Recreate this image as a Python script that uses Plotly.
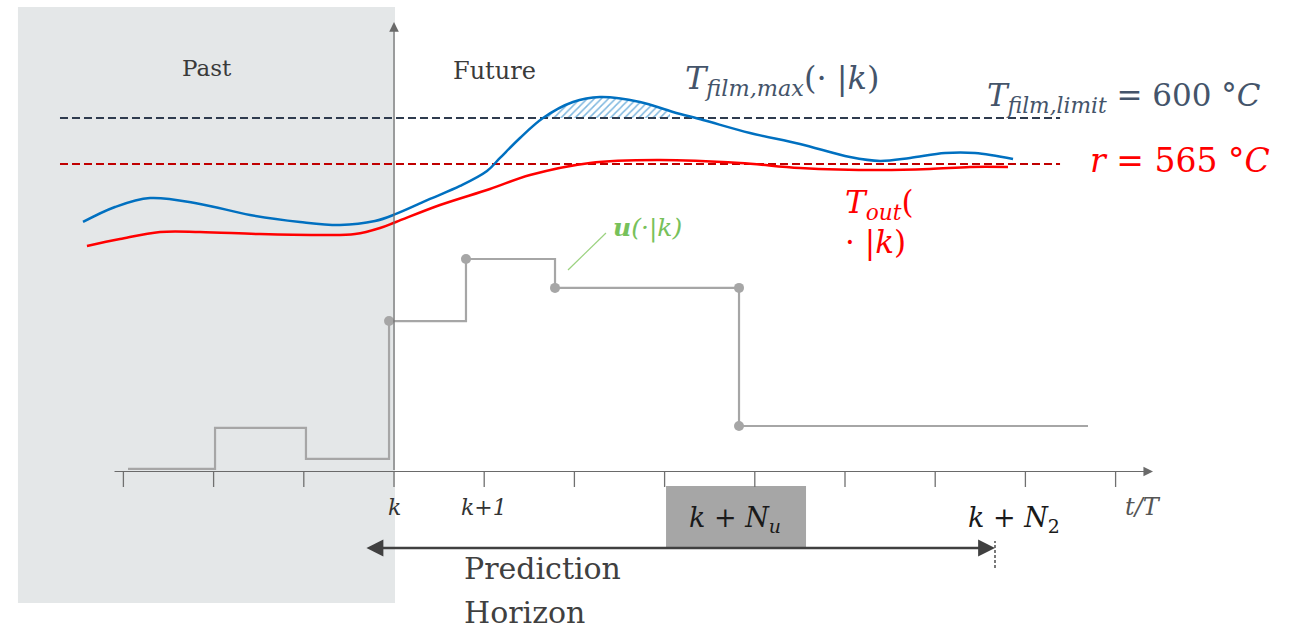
import plotly.graph_objects as go

# ---------------- data ----------------
# time in sampling steps relative to k (k = 0)
blue_t = [-3.448, -3.093, -2.705, -2.151, -1.596, -1.042, -0.599, -0.211, 0.022, 0.399,
          0.732, 1.031, 1.175, 1.397, 1.652, 1.984, 2.284, 2.727, 3.093, 3.426,
          3.947, 4.501, 5.055, 5.388, 5.721, 6.109, 6.441, 6.863]
blue_T = [520.9, 532.3, 539.1, 534.6, 526.2, 520.9, 518.6, 521.6, 527.0, 538.4,
          548.3, 559.7, 569.6, 584.8, 600.0, 612.2, 616.0, 612.2, 604.6, 598.5,
          588.6, 580.2, 570.3, 567.3, 569.6, 573.4, 573.4, 568.8]

red_t = [-3.404, -3.038, -2.594, -2.151, -1.486, -0.820, -0.432, -0.155, 0.022, 0.510,
         1.064, 1.508, 2.173, 2.916, 3.836, 4.501, 5.388, 5.942, 6.386, 6.807]
red_T = [502.6, 507.9, 513.3, 513.3, 511.7, 511.0, 511.7, 516.3, 520.9, 533.8,
         546.0, 556.6, 565.8, 568.0, 565.8, 562.0, 560.4, 561.2, 562.7, 562.7]

hatch_t = [1.652, 1.984, 2.284, 2.727, 3.060]
hatch_T = [600.0, 612.2, 616.0, 612.2, 605.5]
hatch_base_t = [1.652, 3.060]
hatch_base_T = [600.0, 600.0]

limit_t = [-3.703, 7.384]
T_limit = [600, 600]
r_ref = [565, 565]

u_t = [-2.949, -1.984, -0.976, -0.055, 0.798, 1.785, 3.825, 7.694]
u_val = [0.012, 0.205, 0.059, 0.708, 1.0, 0.864, 0.214, 0.214]
u_dot_t = [-0.055, 0.798, 1.785, 3.825, 3.825]
u_dot_val = [0.708, 1.0, 0.864, 0.864, 0.214]

tick_steps = list(range(-3, 9))
tick_labels = {0: "k", 1: "k+1"}

# ---------------- figure ----------------
PX = 90.2  # pixels per step (for layout only)
SERIF = "DejaVu Serif"
fig = go.Figure()

# hatch (violation area)
fig.add_trace(go.Scatter(x=hatch_base_t, y=hatch_base_T, mode="lines",
                         line=dict(width=0), hoverinfo="skip", showlegend=False))
fig.add_trace(go.Scatter(x=hatch_t, y=hatch_T, mode="lines", line=dict(width=0, shape="spline"),
                         fill="tonexty", fillcolor="white",
                         fillpattern=dict(shape="/", fgcolor="#0070c0", bgcolor="white",
                                          size=5, solidity=0.3),
                         hoverinfo="skip", showlegend=False))

# dashed limit / reference
fig.add_trace(go.Scatter(x=limit_t, y=T_limit, mode="lines",
                         line=dict(color="#2e3b4e", width=2, dash="8px,4px"), showlegend=False))
fig.add_trace(go.Scatter(x=limit_t, y=r_ref, mode="lines",
                         line=dict(color="#c00000", width=2, dash="8px,4px"), showlegend=False))

# curves
fig.add_trace(go.Scatter(x=blue_t, y=blue_T, mode="lines",
                         line=dict(color="#0070c0", width=2.5, shape="spline", smoothing=1),
                         showlegend=False))
fig.add_trace(go.Scatter(x=red_t, y=red_T, mode="lines",
                         line=dict(color="#ff0000", width=2.5, shape="spline", smoothing=1),
                         showlegend=False))

# control signal
fig.add_trace(go.Scatter(x=u_t, y=u_val, yaxis="y2", mode="lines",
                         line=dict(color="#a6a6a6", width=2.2, shape="hv"), showlegend=False))
fig.add_trace(go.Scatter(x=u_dot_t, y=u_dot_val, yaxis="y2", mode="markers",
                         marker=dict(color="#a6a6a6", size=10), showlegend=False))

shapes = []
# past background
shapes.append(dict(type="rect", xref="x", yref="paper", x0=-4.169, x1=0.011,
                   y0=1 - 603 / 630, y1=1 - 7 / 630, fillcolor="#e4e7e8",
                   line=dict(width=0), layer="below"))
# ticks
for t in tick_steps:
    shapes.append(dict(type="line", xref="x", yref="y2", x0=t, x1=t, y0=0, y1=-0.073,
                       line=dict(color="#707070", width=1.3)))
# N_u box
shapes.append(dict(type="rect", xref="x", yref="paper", x0=3.016, x1=4.568,
                   y0=1 - 547 / 630, y1=1 - 486 / 630, fillcolor="#a6a6a6",
                   line=dict(width=0), layer="below"))
# dashed marker at k+N2
shapes.append(dict(type="line", xref="x", yref="paper", x0=6.663, x1=6.663,
                   y0=1 - 568 / 630, y1=1 - 541 / 630,
                   line=dict(color="#222222", width=1.2, dash="3px,2px")))
# green leader
shapes.append(dict(type="line", xref="x", yref="paper", x0=1.929, x1=2.350,
                   y0=1 - 270 / 630, y1=1 - 233 / 630,
                   line=dict(color="#9bd27f", width=1.2)))

ann = []
# axes arrows
ann.append(dict(x=8.415, y=0, xref="x", yref="y2", ax=-3.115, ay=0, axref="x", ayref="y2",
                text="", showarrow=True, arrowhead=2, arrowsize=1.6, arrowwidth=1.2,
                arrowcolor="#6a6a6a"))
ann.append(dict(x=0, y=2.115, xref="x", yref="y2", ax=0, ay=0, axref="x", ayref="y2",
                text="", showarrow=True, arrowhead=2, arrowsize=1.6, arrowwidth=1.2,
                arrowcolor="#6a6a6a"))
# prediction horizon double arrow
ann.append(dict(x=6.663, y=-0.36, xref="x", yref="y2", ax=-0.322, ay=-0.36, axref="x", ayref="y2",
                text="", showarrow=True, arrowhead=2, arrowside="end+start", arrowsize=1.3,
                arrowwidth=2.6, arrowcolor="#404040"))


def txt(x, y, s, size, color, family=SERIF, xanchor="center", yanchor="middle", align="center"):
    ann.append(dict(x=x, y=y, xref="x", yref="paper", text=s, showarrow=False,
                    xanchor=xanchor, yanchor=yanchor, align=align,
                    font=dict(size=size, color=color, family=family)))


txt(-2.073, 1 - 68 / 630, "Past", 23, "#3a3a3a")
txt(1.109, 1 - 71 / 630, "Future", 24, "#3a3a3a")
txt(3.204, 1 - 80 / 630, "<i>T</i><sub><i>film,max</i></sub>(· |<i>k</i>)", 32, "#44546a",
    xanchor="left")
txt(6.552, 1 - 97 / 630, "<i>T</i><sub><i>film,limit</i></sub> = 600 °<i>C</i>", 31, "#44546a",
    xanchor="left")
txt(7.694, 1 - 160 / 630, "<i>r</i> = 565 °<i>C</i>", 33, "#ff0000", xanchor="left")
txt(4.978, 1 - 222 / 630, "<i>T</i><sub><i>out</i></sub>(<br>· |<i>k</i>)", 31, "#ff0000",
    xanchor="left", align="left")
txt(2.406, 1 - 228 / 630, "<b><i>u</i></b><i>(·|k)</i>", 25, "#77c15a", xanchor="left")
for t in tick_steps:
    if t in tick_labels:
        txt(t, 1 - 507 / 630, "<i>" + tick_labels[t] + "</i>", 22, "#333333")
txt(8.304, 1 - 507 / 630, "<i>t/T</i>", 24, "#555555")
txt(3.78, 1 - 519 / 630, "<i>k</i> + <i>N</i><sub><i>u</i></sub>", 27, "#1a1a1a")
txt(6.874, 1 - 519 / 630, "<i>k</i> + <i>N</i><sub>2</sub>", 27, "#1a1a1a")
txt(0.754, 1 - 568 / 630, "Prediction", 30, "#404040", xanchor="left")
txt(0.754, 1 - 612 / 630, "Horizon", 30, "#404040", xanchor="left")

fig.update_layout(
    width=1291, height=630,
    margin=dict(l=0, r=0, t=0, b=0),
    paper_bgcolor="white", plot_bgcolor="white",
    xaxis=dict(range=[-394 / PX, (1291 - 394) / PX], visible=False, fixedrange=True),
    yaxis=dict(range=[210.42, 689.79], visible=False, fixedrange=True),
    yaxis2=dict(range=[-0.7459, 2.2188], overlaying="y", visible=False, fixedrange=True),
    shapes=shapes, annotations=ann, showlegend=False,
)

fig.write_html("out.html")
